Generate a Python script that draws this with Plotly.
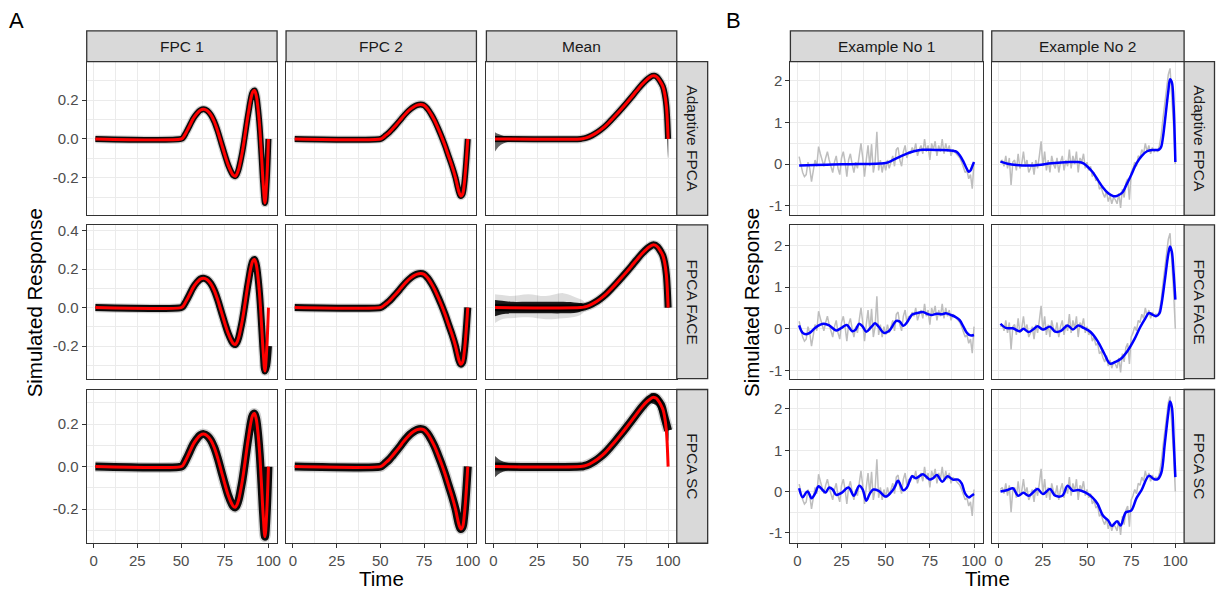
import plotly.graph_objects as go

W, H = 1219, 590

# ---------------- data ----------------
TIME_TICKS = [0, 25, 50, 75, 100]
TIME_TICK_TEXT = ["0", "25", "50", "75", "100"]
TIME_MINOR = [12.5, 37.5, 62.5, 87.5]

COMPONENTS = ["FPC 1", "FPC 2", "Mean"]
METHODS = ["Adaptive FPCA", "FPCA FACE", "FPCA SC"]
EXAMPLES = ["Example No 1", "Example No 2"]

A_YTICKS = [[-0.2, 0.0, 0.2], [-0.2, 0.0, 0.2, 0.4], [-0.2, 0.0, 0.2]]
A_YTICK_TEXT = [["-0.2", "0.0", "0.2"], ["-0.2", "0.0", "0.2", "0.4"], ["-0.2", "0.0", "0.2"]]
A_YMINOR = [-0.3, -0.1, 0.1, 0.3]
B_YTICKS = [-1, 0, 1, 2]
B_YTICK_TEXT = ["-1", "0", "1", "2"]
B_YMINOR = [-0.5, 0.5, 1.5]

# true functions (red)
T_FPC1 = [1, 50, 51, 53, 55, 57, 59, 61, 63, 65, 67, 69, 71, 73, 75, 77, 79,
          80, 81, 82, 83, 84, 85, 86, 87, 88, 89, 90, 91, 92, 93, 94, 95, 96, 97, 98, 99, 100]
FPC1_TRUE = [0, 0, 0.005, 0.035, 0.07, 0.105, 0.13, 0.148, 0.153, 0.145, 0.125, 0.09, 0.04, -0.02, -0.08, -0.135, -0.175,
             -0.188, -0.192, -0.18, -0.155, -0.115, -0.07, -0.015, 0.045, 0.105, 0.16, 0.21, 0.242, 0.25, 0.225, 0.16,
             0.06, -0.08, -0.23, -0.33, -0.22, 0.0]

T_FPC2 = [1, 50, 51, 53, 55, 57, 59, 61, 63, 65, 67, 69, 71, 73, 75, 77, 79, 81, 83, 85,
          87, 89, 91, 93, 94, 95, 96, 97, 98, 99, 100]
FPC2_TRUE = [0, 0, 0.004, 0.018, 0.033, 0.052, 0.072, 0.093, 0.115, 0.135, 0.152, 0.165, 0.174, 0.177, 0.173,
             0.155, 0.128, 0.095, 0.055, 0.012, -0.035, -0.088, -0.14, -0.2, -0.24, -0.275, -0.294, -0.285,
             -0.23, -0.13, 0.0]

T_MEAN = [1, 50, 52, 55, 58, 61, 64, 67, 70, 73, 76, 79, 82, 85, 88, 90, 91, 92, 93, 94, 95, 96, 97, 98, 99, 100]
MEAN_TRUE = [0, 0, 0.003, 0.012, 0.026, 0.044, 0.066, 0.093, 0.122, 0.152, 0.183, 0.215, 0.248, 0.28, 0.307,
             0.32, 0.325, 0.326, 0.323, 0.315, 0.303, 0.288, 0.27, 0.235, 0.17, 0.0]

# where the bundle of estimates departs from the truth at the end (row, col)
EST_TAIL_FPC1_FACE_T = [98, 99, 100]
EST_TAIL_FPC1_FACE = [-0.33, -0.3, -0.2]
EST_TAIL_MEAN_SC_T = [94, 96, 98, 100]
EST_TAIL_MEAN_SC = [0.315, 0.29, 0.23, 0.17]

# spread of estimates (envelopes)
FLARE_MEAN_ADAPT_T = [1, 3, 6, 10, 16]
FLARE_MEAN_ADAPT_LO = [-0.065, -0.04, -0.022, -0.012, -0.008]
FLARE_MEAN_ADAPT_HI = [0.035, 0.025, 0.015, 0.01, 0.008]
TAIL_MEAN_ADAPT_T = [98, 99, 100]
TAIL_MEAN_ADAPT_LO = [0.2, 0.1, -0.1]
TAIL_MEAN_ADAPT_HI = [0.25, 0.18, 0.02]

FLARE_MEAN_FACE_T = [1, 5, 10, 20, 30, 40, 48, 52]
FLARE_MEAN_FACE_LO = [-0.045, -0.035, -0.03, -0.03, -0.03, -0.03, -0.025, -0.01]
FLARE_MEAN_FACE_HI = [0.04, 0.035, 0.03, 0.03, 0.03, 0.03, 0.025, 0.018]
FLARE_MEAN_FACE_LO2 = [-0.08, -0.06, -0.055, -0.05, -0.06, -0.055, -0.045, -0.02]
FLARE_MEAN_FACE_HI2 = [0.07, 0.065, 0.06, 0.07, 0.06, 0.075, 0.05, 0.03]

FLARE_MEAN_SC_T = [1, 4, 8, 14]
FLARE_MEAN_SC_LO = [-0.05, -0.03, -0.018, -0.012]
FLARE_MEAN_SC_HI = [0.05, 0.03, 0.018, 0.012]
TAIL_MEAN_SC_T = [90, 93, 95, 97, 98.5, 100]
TAIL_MEAN_SC_LO = [0.3, 0.29, 0.26, 0.21, 0.17, 0.12]
TAIL_MEAN_SC_HI = [0.345, 0.345, 0.33, 0.3, 0.26, 0.22]

# panel B: observed curves (grey)
T_RAW = list(range(1, 101))
EX1_RAW = [0.18, -0.05, -0.2, -0.3, -0.25, 0.05, -0.1, -0.42, -0.15, 0.1,
           -0.05, 0.42, 0.25, 0.1, -0.05, 0.15, 0.3, 0.1, -0.05, -0.2,
           0.05, 0.2, -0.1, -0.25, 0.15, 0.3, 0.05, -0.3, 0.1, 0.25,
           0.0, -0.2, 0.05, -0.1, 0.2, 0.5, 0.15, -0.3, 0.1, 0.45,
           -0.05, 0.48, -0.2, 0.05, 0.78, -0.15, 0.1, -0.2, 0.05, -0.15,
           0.1, -0.1, 0.05, 0.2, -0.05, 0.35, 0.4, 0.1, -0.05, 0.3,
           0.45, 0.15, 0.3, 0.25, 0.4, 0.3, 0.5, 0.2, 0.35, 0.45,
           0.25, 0.6, 0.3, 0.45, 0.1, 0.5, 0.35, 0.55, 0.2, 0.45,
           0.3, 0.6, 0.25, 0.5, 0.3, 0.45, 0.2, 0.35, 0.3, 0.25,
           0.2, 0.15, 0.05, -0.1, -0.2, -0.15, -0.35, -0.25, -0.59, 0.05]
EX2_RAW = [0.05, 0.1, -0.05, 0.2, -0.1, 0.15, -0.5, 0.05, 0.1, -0.15,
           0.25, -0.1, 0.0, 0.3, -0.05, 0.1, -0.2, -0.1, 0.05, -0.25,
           0.1, -0.1, 0.2, 0.55, -0.05, 0.3, -0.15, 0.1, -0.2, 0.2,
           0.0, -0.1, 0.15, -0.2, 0.05, 0.2, -0.15, 0.1, -0.05, 0.35,
           -0.1, 0.2, 0.0, 0.3, -0.2, 0.15, 0.05, 0.25, -0.1, 0.05,
           -0.15, -0.05, -0.3, -0.2, -0.4, -0.35, -0.6, -0.55, -0.7, -0.8,
           -0.65, -0.9, -0.75, -0.95, -0.8, -0.85, -0.95, -0.7, -1.05, -0.6,
           -0.8, -0.45, -0.35, -0.85, -0.2, -0.1, 0.05, -0.05, 0.2, 0.15,
           0.35, 0.25, 0.5, 0.3, 0.45, 0.25, 0.4, 0.3, 0.35, 0.3,
           0.45, 0.7, 1.1, 1.5, 1.85, 2.15, 2.3, 1.7, 0.9, 0.0]

# panel B: fitted curves (blue), per method
EX1_ADAPT_T = [1, 10, 20, 30, 40, 47, 50, 53, 56, 59, 62, 65, 68, 71, 75, 80, 85, 88, 90, 92, 94, 96, 97, 98, 99, 100]
EX1_ADAPT = [-0.03, -0.02, -0.01, 0.0, 0.005, 0.015, 0.03, 0.075, 0.14, 0.2, 0.255, 0.3, 0.33, 0.345, 0.345,
             0.34, 0.335, 0.32, 0.3, 0.21, 0.06, -0.12, -0.18, -0.15, -0.05, 0.05]
EX1_FACE_T = [1, 3, 5, 7, 10, 13, 15, 18, 22, 25, 28, 31, 33, 35, 37, 39, 42, 44, 46, 49, 52, 56, 58, 60,
              62, 65, 68, 71, 74, 76, 79, 82, 84, 87, 90, 92, 94, 96, 98, 100]
EX1_FACE = [0.08, -0.1, -0.13, -0.1, 0.02, 0.1, 0.12, 0.08, -0.04, 0.02, 0.09, -0.06, -0.02, 0.12, 0.05, -0.07,
            0.05, 0.13, 0.05, -0.1, -0.05, 0.19, 0.17, 0.07, 0.15, 0.34, 0.38, 0.4, 0.35, 0.33, 0.36, 0.35, 0.37,
            0.33, 0.27, 0.2, 0.05, -0.1, -0.16, -0.15]
EX1_SC_T = [1, 3, 5, 6, 8, 10, 12, 14, 16, 18, 20, 22, 25, 29, 32, 35, 37, 39, 41, 43, 46, 50, 53, 55, 57,
            60, 62, 65, 67, 71, 73, 75, 77, 79, 82, 85, 88, 91, 93, 95, 97, 98, 100]
EX1_SC = [0.08, -0.14, -0.02, 0.0, -0.16, -0.05, 0.13, 0.05, -0.02, 0.1, 0.05, -0.08, -0.03, 0.1, -0.1, 0.14,
          0.05, -0.22, -0.05, 0.05, 0.02, -0.12, -0.02, 0.1, 0.26, 0.03, 0.1, 0.37, 0.32, 0.42, 0.36, 0.29, 0.33,
          0.4, 0.24, 0.37, 0.29, 0.29, 0.2, -0.05, -0.14, -0.12, -0.06]

EX2_ADAPT_T = [1, 5, 10, 20, 30, 40, 45, 48, 50, 53, 56, 59, 62, 65, 67, 70, 72, 75, 78, 81, 84, 87, 90, 91,
               92, 93, 94, 95, 96, 97, 98, 99, 100]
EX2_ADAPT = [0.06, 0.01, -0.02, -0.03, 0.02, 0.05, 0.05, 0.02, -0.05, -0.18, -0.37, -0.56, -0.7, -0.77, -0.76,
             -0.68, -0.52, -0.26, 0.02, 0.2, 0.31, 0.34, 0.34, 0.36, 0.42, 0.65, 1.0, 1.38, 1.75, 2.04, 1.97,
             1.4, 0.05]
EX2_FACE_T = [1, 4, 8, 12, 14, 17, 20, 22, 25, 29, 32, 35, 39, 42, 45, 48, 52, 56, 60, 63, 66, 69, 73, 77,
              80, 83, 85, 87, 89, 91, 92, 94, 96, 97, 98, 99, 100]
EX2_FACE = [0.12, 0.02, 0.01, -0.06, 0.0, -0.08, 0.0, 0.06, -0.02, 0.05, -0.07, -0.06, 0.08, -0.02, 0.08, 0.02,
            -0.08, -0.3, -0.62, -0.84, -0.8, -0.73, -0.53, -0.24, 0.03, 0.25, 0.38, 0.34, 0.3, 0.37, 0.55, 1.15,
            1.8, 1.98, 1.85, 1.35, 0.7]
EX2_SC_T = [1, 5, 8, 11, 14, 17, 22, 25, 29, 32, 36, 39, 42, 45, 49, 53, 56, 59, 62, 64, 67, 69, 72, 75, 78,
            81, 85, 88, 90, 92, 94, 96, 97, 98, 99, 100]
EX2_SC = [0.0, 0.04, 0.08, -0.1, -0.03, -0.1, 0.06, -0.06, 0.06, -0.1, -0.1, 0.14, 0.02, 0.04, -0.02, -0.14,
          -0.3, -0.58, -0.7, -0.83, -0.72, -0.82, -0.5, -0.46, -0.16, 0.05, 0.38, 0.3, 0.3, 0.45, 1.15, 1.9,
          2.18, 2.05, 1.3, 0.35]

# ---------------- layout geometry (pixels) ----------------
A_COLS = [(87, 278), (287, 478), (488, 679)]
B_COLS = [(793, 986), (995, 1188)]
ROWS = [(59, 213.5), (223, 377.5), (388.5, 543)]
STRIP_TOP = 28
A_RSTRIP = (679, 710)
B_RSTRIP = (1188, 1218.5)
XRANGE = [-3.95, 104.95]
A_YRANGE = [[-0.394, 0.398], [-0.369, 0.43], [-0.361, 0.363]]
B_YRANGE = [[-1.23, 2.46], [-1.2, 2.5], [-1.25, 2.47]]

FONT = "Liberation Sans, Arial, sans-serif"
GRID = "#EBEBEB"
BORDER = "#333333"
STRIP_FILL = "#D9D9D9"


def fx(p):
    return p / W


def fy(p):
    return 1 - p / H


layout = dict(width=W, height=H, margin=dict(l=0, r=0, t=0, b=0),
              paper_bgcolor="white", plot_bgcolor="white", showlegend=False,
              font=dict(family=FONT))
shapes, annotations = [], []
traces = []


def add_axes(n, xcol, yrow, yrange, yticks, yticktext, yminor, bottom, left):
    xs = "xaxis" if n == 1 else f"xaxis{n}"
    ys = "yaxis" if n == 1 else f"yaxis{n}"
    common = dict(showline=True, mirror=True, linecolor=BORDER, linewidth=1.3,
                  showgrid=True, gridcolor=GRID, gridwidth=1.4, zeroline=False,
                  tickcolor=BORDER, ticklen=4, tickwidth=1.1,
                  tickfont=dict(size=15, color="#4D4D4D", family=FONT), fixedrange=True)
    layout[xs] = dict(common, domain=[fx(xcol[0]), fx(xcol[1])], range=XRANGE,
                      anchor=f"y{n}", tickmode="array", tickvals=TIME_TICKS, ticktext=TIME_TICK_TEXT,
                      ticks="outside" if bottom else "", showticklabels=bottom,
                      minor=dict(tickmode="array", tickvals=TIME_MINOR, showgrid=True,
                                 gridcolor=GRID, gridwidth=0.7, ticks=""))
    layout[ys] = dict(common, domain=[fy(yrow[1]), fy(yrow[0])], range=yrange,
                      anchor=f"x{n}", tickmode="array", tickvals=yticks, ticktext=yticktext,
                      ticks="outside" if left else "", showticklabels=left,
                      minor=dict(tickmode="array", tickvals=yminor, showgrid=True,
                                 gridcolor=GRID, gridwidth=0.7, ticks=""))
    return f"x{n}", f"y{n}"


def strip(x0, y0, x1, y1, text, angle=0):
    shapes.append(dict(type="rect", xref="paper", yref="paper", x0=fx(x0), x1=fx(x1),
                       y0=fy(y1), y1=fy(y0), fillcolor=STRIP_FILL,
                       line=dict(color=BORDER, width=1.3), layer="above"))
    annotations.append(dict(xref="paper", yref="paper", x=fx((x0 + x1) / 2), y=fy((y0 + y1) / 2),
                            text=text, showarrow=False, textangle=angle,
                            font=dict(size=15.5, color="#1A1A1A", family=FONT),
                            xanchor="center", yanchor="middle"))


def band(xa, ya, t, lo, hi, color):
    traces.append(go.Scatter(x=list(t) + list(t)[::-1], y=list(hi) + list(lo)[::-1],
                             fill="toself", fillcolor=color, mode="lines",
                             line=dict(width=0, shape="spline"), xaxis=xa, yaxis=ya,
                             hoverinfo="skip"))


TRUTH = [(T_FPC1, FPC1_TRUE), (T_FPC2, FPC2_TRUE), (T_MEAN, MEAN_TRUE)]
EST_TAILS = {(1, 0): (EST_TAIL_FPC1_FACE_T, EST_TAIL_FPC1_FACE),
             (2, 2): (EST_TAIL_MEAN_SC_T, EST_TAIL_MEAN_SC)}
BANDS = {(0, 2): [(FLARE_MEAN_ADAPT_T, FLARE_MEAN_ADAPT_LO, FLARE_MEAN_ADAPT_HI, "rgba(0,0,0,0.6)"),
                  (TAIL_MEAN_ADAPT_T, TAIL_MEAN_ADAPT_LO, TAIL_MEAN_ADAPT_HI, "rgba(0,0,0,0.8)")],
         (1, 2): [(FLARE_MEAN_FACE_T, FLARE_MEAN_FACE_LO2, FLARE_MEAN_FACE_HI2, "rgba(0,0,0,0.13)"),
                  (FLARE_MEAN_FACE_T, FLARE_MEAN_FACE_LO, FLARE_MEAN_FACE_HI, "rgba(0,0,0,0.88)")],
         (2, 2): [(FLARE_MEAN_SC_T, FLARE_MEAN_SC_LO, FLARE_MEAN_SC_HI, "rgba(0,0,0,0.7)"),
                  (TAIL_MEAN_SC_T, TAIL_MEAN_SC_LO, TAIL_MEAN_SC_HI, "rgba(0,0,0,0.85)")]}
CORE_W = [6, 7, 8]
FRINGE_W = [8.5, 9.5, 11]

n = 0
# ---------- panel A ----------
for r in range(3):
    for c in range(3):
        n += 1
        xa, ya = add_axes(n, A_COLS[c], ROWS[r], A_YRANGE[r], A_YTICKS[r], A_YTICK_TEXT[r],
                          A_YMINOR, bottom=(r == 2), left=(c == 0))
        t, v = TRUTH[c]
        if (r, c) in EST_TAILS:
            tt, tv = EST_TAILS[(r, c)]
            et = [a for a in t if a < tt[0]] + list(tt)
            ev = [b for a, b in zip(t, v) if a < tt[0]] + list(tv)
        else:
            et, ev = t, v
        traces.append(go.Scatter(x=et, y=ev, mode="lines", xaxis=xa, yaxis=ya,
                                 line=dict(color="rgba(0,0,0,0.18)", width=FRINGE_W[r], shape="spline")))
        for bt, blo, bhi, bc in BANDS.get((r, c), []):
            band(xa, ya, bt, blo, bhi, bc)
        traces.append(go.Scatter(x=et, y=ev, mode="lines", xaxis=xa, yaxis=ya,
                                 line=dict(color="rgba(0,0,0,0.95)", width=CORE_W[r], shape="spline")))
        traces.append(go.Scatter(x=t, y=v, mode="lines", xaxis=xa, yaxis=ya,
                                 line=dict(color="#FF0000", width=3, shape="spline")))

# ---------- panel B ----------
FITS = [[(EX1_ADAPT_T, EX1_ADAPT), (EX2_ADAPT_T, EX2_ADAPT)],
        [(EX1_FACE_T, EX1_FACE), (EX2_FACE_T, EX2_FACE)],
        [(EX1_SC_T, EX1_SC), (EX2_SC_T, EX2_SC)]]
RAWS = [EX1_RAW, EX2_RAW]
for r in range(3):
    for c in range(2):
        n += 1
        xa, ya = add_axes(n, B_COLS[c], ROWS[r], B_YRANGE[r], B_YTICKS, B_YTICK_TEXT,
                          B_YMINOR, bottom=(r == 2), left=(c == 0))
        traces.append(go.Scatter(x=T_RAW, y=RAWS[c], mode="lines", xaxis=xa, yaxis=ya,
                                 line=dict(color="#BEBEBE", width=1.5)))
        ft, fv = FITS[r][c]
        traces.append(go.Scatter(x=ft, y=fv, mode="lines", xaxis=xa, yaxis=ya,
                                 line=dict(color="#0000FF", width=2.5, shape="spline")))

# ---------- strips ----------
for c in range(3):
    strip(A_COLS[c][0], STRIP_TOP, A_COLS[c][1], ROWS[0][0], COMPONENTS[c])
for c in range(2):
    strip(B_COLS[c][0], STRIP_TOP, B_COLS[c][1], ROWS[0][0], EXAMPLES[c])
for r in range(3):
    strip(A_RSTRIP[0], ROWS[r][0], A_RSTRIP[1], ROWS[r][1], METHODS[r], angle=90)
    strip(B_RSTRIP[0], ROWS[r][0], B_RSTRIP[1], ROWS[r][1], METHODS[r], angle=90)


# ---------- titles ----------
def label(x, y, text, size, angle=0, anchor="center"):
    annotations.append(dict(xref="paper", yref="paper", x=fx(x), y=fy(y), text=text,
                            showarrow=False, textangle=angle, xanchor=anchor, yanchor="middle",
                            font=dict(size=size, color="black", family=FONT)))


label(7, 18, "A", 22, anchor="left")
label(726, 18, "B", 22, anchor="left")
label(35, 301, "Simulated Response", 20.5, angle=-90)
label(754, 301, "Simulated Response", 20.5, angle=-90)
label((A_COLS[0][0] + A_COLS[2][1]) / 2, 578, "Time", 20.5)
label((B_COLS[0][0] + B_COLS[1][1]) / 2, 578, "Time", 20.5)

layout["shapes"] = shapes
layout["annotations"] = annotations
fig = go.Figure(data=traces, layout=layout)
fig.write_html("out.html")
